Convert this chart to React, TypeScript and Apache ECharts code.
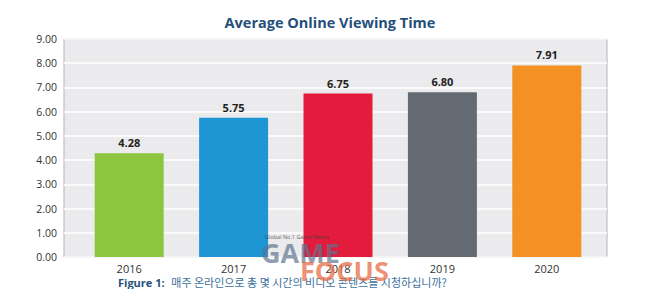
import React, { useEffect, useRef } from "react";
import * as echarts from "echarts";

const years = ["2016", "2017", "2018", "2019", "2020"];
const values = [4.28, 5.75, 6.75, 6.8, 7.91];
const colors = ["#8cc63f", "#1d96d3", "#e31b3c", "#646a72", "#f39122"];
const title = "Average Online Viewing Time";
const captionLabel = "Figure 1:";
const captionText = "매주 온라인으로 총 몇 시간의 비디오 콘텐츠를 시청하십니까?";

export default function App() {
  const ref = useRef<HTMLDivElement>(null);
  useEffect(() => {
    const chart = echarts.init(ref.current!, null, { renderer: "svg" });
    chart.setOption({
      animation: false,
      title: {
        text: title,
        left: "center",
        top: 10,
        textStyle: { fontFamily: "Open Sans", fontWeight: "bold", fontSize: 14.5, color: "#25507b" },
      },
      grid: [
        { left: 64, top: 39, width: 543, height: 218, show: true, backgroundColor: "#ebebed", borderColor: "#b5b5ba", borderWidth: 1 },
        { left: 77, top: 39, width: 522, height: 218 },
      ],
      xAxis: [
        { type: "value", gridIndex: 0, show: false, min: 0, max: 1 },
        {
          type: "category",
          gridIndex: 1,
          data: years,
          axisLine: { show: false },
          axisTick: { show: false },
          axisLabel: { color: "#333", fontFamily: "Open Sans", fontSize: 11, margin: 6 },
        },
      ],
      yAxis: [
        {
          type: "value",
          gridIndex: 0,
          min: 0,
          max: 9,
          interval: 1,
          axisLine: { show: false },
          axisTick: { show: false },
          axisLabel: { color: "#333", fontFamily: "Open Sans", fontSize: 10.5, margin: 7, formatter: (v: number) => v.toFixed(2) },
          splitLine: { lineStyle: { color: "#ffffff", width: 1.5 } },
        },
        { type: "value", gridIndex: 1, min: 0, max: 9, show: false, splitLine: { show: false } },
      ],
      series: [
        {
          type: "bar",
          xAxisIndex: 1,
          yAxisIndex: 1,
          barWidth: 69,
          data: values.map((v, i) => ({ value: v, itemStyle: { color: colors[i] } })),
          label: {
            show: true,
            position: "top",
            distance: 5,
            formatter: (p: any) => p.value.toFixed(2),
            fontFamily: "Open Sans",
            fontWeight: "bold",
            fontSize: 11,
            color: "#222",
          },
        },
      ],
      graphic: [
        {
          type: "text",
          left: 118,
          top: 276,
          z: 50,
          style: {
            text: "{a|" + captionLabel + "}  {b|" + captionText + "}",
            rich: {
              a: { fontFamily: "Open Sans", fontWeight: "bold", fontSize: 11, fill: "#25507b" },
              b: { fontFamily: "Noto Sans CJK KR", fontSize: 11, fill: "#3d6f9c" },
            },
          },
        },
        {
          type: "text",
          left: 265,
          top: 234,
          z: 100,
          style: { text: "Global No.1 Game Media", fontFamily: "Open Sans", fontSize: 5.5, fill: "rgba(60,60,60,0.8)" },
        },
        {
          type: "text",
          left: 261,
          top: 239,
          z: 100,
          style: { text: "GAME", fontFamily: "Open Sans", fontWeight: "bold", fontSize: 27, fill: "rgba(95,115,145,0.7)" },
        },
        {
          type: "text",
          left: 300,
          top: 257,
          z: 100,
          style: { text: "FOCUS", fontFamily: "Open Sans", fontWeight: "bold", fontSize: 27, fill: "rgba(232,110,70,0.75)" },
        },
      ],
    });
    return () => chart.dispose();
  }, []);
  return <div ref={ref} style={{ width: 660, height: 297, margin: -8 }} />;
}
